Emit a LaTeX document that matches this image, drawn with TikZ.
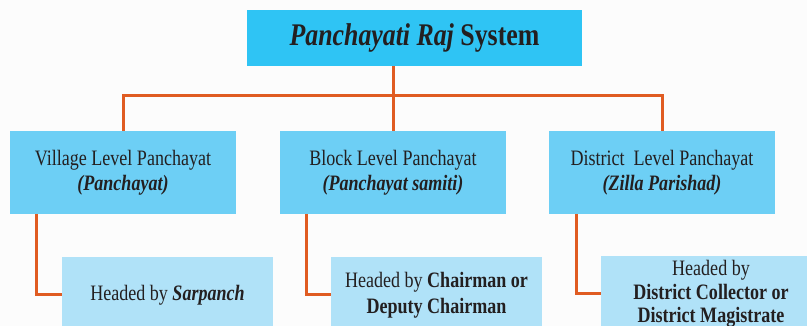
\documentclass[tikz,border=0pt]{standalone}
\usepackage{fontspec}
\setmainfont{Liberation Serif}[FakeStretch=0.82]
\usetikzlibrary{calc}
\definecolor{bg}{RGB}{252,252,252}
\definecolor{topc}{RGB}{47,196,244}
\definecolor{lvc}{RGB}{109,207,245}
\definecolor{hbc}{RGB}{176,226,248}
\definecolor{linec}{RGB}{224,92,34}
\definecolor{txt}{RGB}{35,31,32}
\tikzset{
  topbox/.style={fill=topc, text=txt, minimum width=335pt, minimum height=56pt, inner sep=0pt, font=\fontsize{31.5}{34}\selectfont},
  lvbox/.style={fill=lvc, text=txt, minimum width=226pt, minimum height=83pt, inner sep=0pt, align=center, font=\fontsize{22}{25}\selectfont},
  hbbox/.style={fill=hbc, text=txt, minimum width=211pt, minimum height=76pt, inner sep=0pt, align=center, font=\fontsize{22}{26}\selectfont},
  conn/.style={draw=linec, line width=3pt},
}
\begin{document}
\begin{tikzpicture}[x=1pt, y=-1pt]
\clip (0,0) rectangle (807,326);
\fill[bg] (0,0) rectangle (807,326);
\node[topbox] (top) at (414.5,38) {\textbf{\textit{Panchayati Raj}} \textbf{System}};
\node[lvbox] (lv1) at (123,172.5) {Village Level Panchayat\\\textbf{\textit{(Panchayat)}}};
\node[lvbox] (lv2) at (393,172.5) {Block Level Panchayat\\\textbf{\textit{(Panchayat samiti)}}};
\node[lvbox] (lv3) at (662,172.5) {District\ \ Level Panchayat\\\textbf{\textit{(Zilla Parishad)}}};
\node[hbbox] (hb1) at (167.5,295) {Headed by \textbf{\textit{Sarpanch}}};
\node[hbbox] (hb2) at (436.5,295) {Headed by \textbf{Chairman or}\\\textbf{Deputy Chairman}};
\node[hbbox, minimum width=220pt, font=\fontsize{22}{23.5}\selectfont] (hb3) at (711,294) {Headed by\\\textbf{District Collector or}\\\textbf{District Magistrate}};
\coordinate (j) at (393,96);
\draw[conn] (lv2.north) -- (lv2.north |- top.south);
\draw[conn] (lv1.north) |- (j) -| (lv3.north);
\coordinate (c1) at ($(lv1.south west)+(27,0)$);
\coordinate (c2) at ($(lv2.south west)+(27,0)$);
\coordinate (c3) at ($(lv3.south west)+(28,0)$);
\draw[conn] (c1) |- (hb1.west);
\draw[conn] (c2) |- (hb2.west);
\draw[conn] (c3) |- (hb3.west);
\end{tikzpicture}
\end{document}
